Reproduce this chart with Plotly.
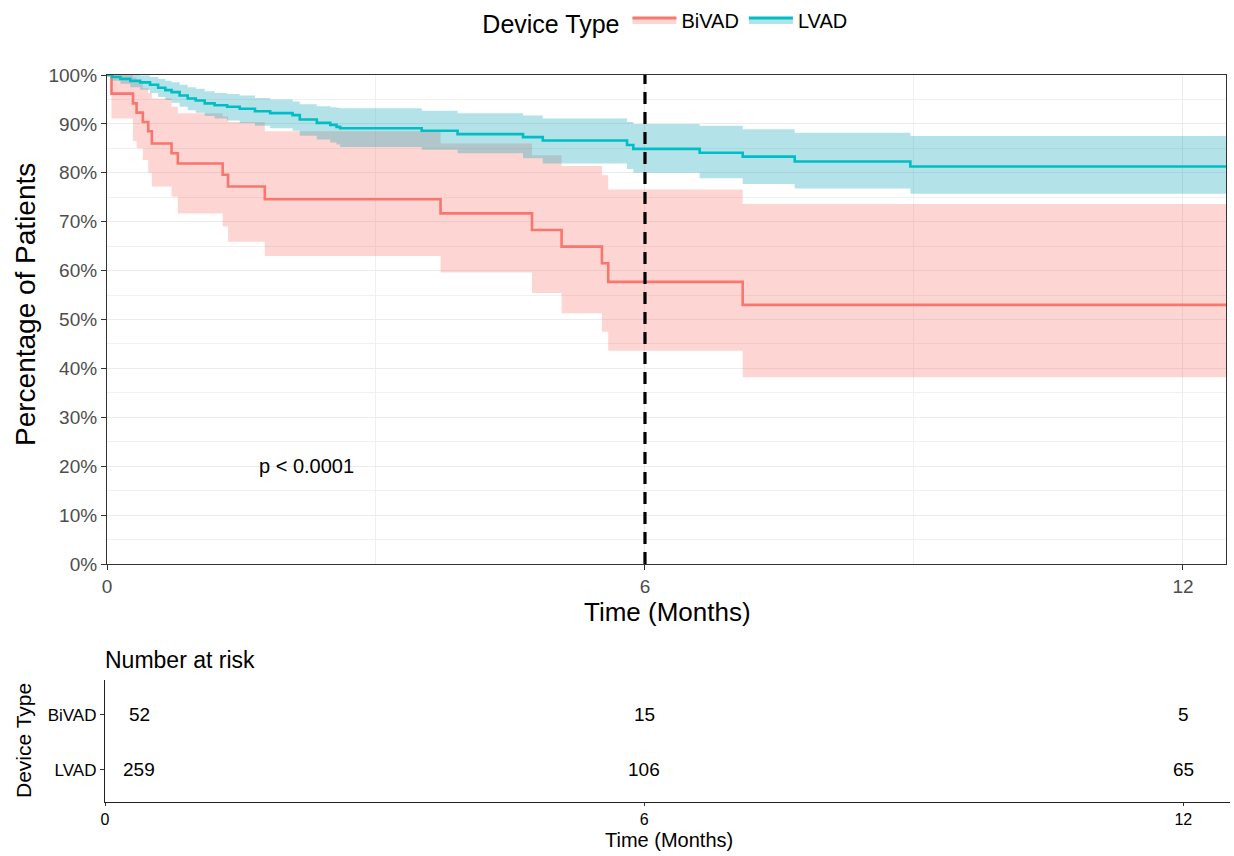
import plotly.graph_objects as go

# ---------------- data ----------------
follow_up_end = 12.48
landmark_time = 6
p_value_text = "p < 0.0001"
p_value_pos = (2.23, 20)

bivad_time = [0, 0.05, 0.29, 0.33, 0.40, 0.46, 0.50, 0.72, 0.79, 1.29, 1.35, 1.76, 3.72, 4.74, 5.07, 5.52, 5.59, 7.09]
bivad_surv = [100, 96.2, 94.2, 92.3, 90.4, 88.5, 86.0, 84.0, 81.9, 79.6, 77.2, 74.6, 71.7, 68.3, 64.9, 61.5, 57.7, 53.0]
bivad_upper = [100, 100, 99.5, 98.5, 97.3, 96.3, 95.2, 93.5, 92.2, 91.5, 90.4, 88.5, 86.0, 83.6, 81.4, 79.5, 76.6, 73.6]
bivad_lower = [100, 91.1, 86.5, 85.0, 82.6, 80.0, 77.2, 75.1, 71.7, 69.0, 65.9, 63.0, 59.6, 55.4, 51.3, 47.5, 43.6, 38.2]

lvad_time = [0, 0.06, 0.15, 0.26, 0.37, 0.48, 0.57, 0.65, 0.72, 0.81, 0.90, 0.99, 1.09, 1.20, 1.34, 1.48, 1.65,
             1.82, 2.07, 2.15, 2.34, 2.49, 2.56, 2.60, 3.51, 3.91, 4.64, 4.86, 5.80, 5.87, 6.61, 7.09, 7.67, 8.96]
lvad_surv = [100, 99.6, 99.2, 98.8, 98.5, 98.0, 97.4, 96.9, 96.5, 95.8, 95.2, 94.8, 94.2, 93.8, 93.5, 93.1, 92.6,
             92.2, 91.8, 90.9, 90.2, 89.8, 89.4, 89.1, 88.6, 87.9, 87.3, 86.6, 85.7, 84.9, 84.1, 83.3, 82.3, 81.3]
lvad_upper = [100, 100, 100, 100, 99.9, 99.6, 99.2, 98.8, 98.5, 98.0, 97.5, 97.2, 96.7, 96.3, 96.1, 95.8, 95.3,
              95.0, 94.6, 94.0, 93.6, 93.4, 93.3, 93.2, 92.7, 92.2, 91.7, 91.1, 90.4, 90.0, 89.6, 88.9, 88.2, 87.5]
lvad_lower = [100, 98.8, 98.2, 97.5, 97.0, 96.3, 95.5, 94.9, 94.3, 93.5, 92.8, 92.3, 91.6, 91.1, 90.7, 90.2, 89.6,
              89.1, 88.6, 87.6, 86.8, 86.2, 85.8, 85.3, 84.7, 84.0, 83.0, 81.9, 80.8, 80.0, 78.9, 77.7, 76.8, 75.7]

groups = ["BiVAD", "LVAD"]
group_colors = {"BiVAD": "#F8766D", "LVAD": "#00BFC4"}
group_fills = {"BiVAD": "rgba(248,118,109,0.3)", "LVAD": "rgba(20,165,182,0.32)"}

risk_times = [0, 6, 12]
risk_bivad = [52, 15, 5]
risk_lvad = [259, 106, 65]

x_ticks = [0, 6, 12]
y_ticks = [0, 10, 20, 30, 40, 50, 60, 70, 80, 90, 100]
y_tick_labels = [f"{v}%" for v in y_ticks]

FONT = "Liberation Sans, Arial, Helvetica, sans-serif"
W, H = 1234, 856

# ---------------- figure ----------------
fig = go.Figure()

series = {
    "BiVAD": (bivad_time, bivad_surv, bivad_upper, bivad_lower),
    "LVAD": (lvad_time, lvad_surv, lvad_upper, lvad_lower),
}

def ext(t, v):
    return list(t) + [follow_up_end], list(v) + [v[-1]]

# confidence bands
for g in groups:
    t, s, u, l = series[g]
    tx, ux = ext(t, u)
    _, lx = ext(t, l)
    fig.add_trace(go.Scatter(x=tx, y=ux, mode="lines", line=dict(width=0, shape="hv"),
                             showlegend=False, hoverinfo="skip", xaxis="x", yaxis="y"))
    fig.add_trace(go.Scatter(x=tx, y=lx, mode="lines", line=dict(width=0, shape="hv"),
                             fill="tonexty", fillcolor=group_fills[g],
                             showlegend=False, hoverinfo="skip", xaxis="x", yaxis="y"))

# survival curves
for g in groups:
    t, s, u, l = series[g]
    tx, sx = ext(t, s)
    fig.add_trace(go.Scatter(x=tx, y=sx, mode="lines",
                             line=dict(color=group_colors[g], width=2.6, shape="hv"),
                             showlegend=False, name=g, xaxis="x", yaxis="y"))

# legend entries (fill box + line)
for g in groups:
    fig.add_trace(go.Scatter(x=[None, None], y=[None, None], mode="lines", fill="toself",
                             fillcolor=group_fills[g], line=dict(color=group_colors[g], width=3),
                             name=g, showlegend=True, xaxis="x", yaxis="y"))

# risk table text
risk_rows = {"BiVAD": (2, risk_bivad), "LVAD": (1, risk_lvad)}

annotations = []
for g in groups:
    yv, counts = risk_rows[g]
    for t, c in zip(risk_times, counts):
        annotations.append(dict(x=t, y=yv, xref="x2", yref="y2", text=str(c), showarrow=False,
                                xanchor="center", yanchor="middle",
                                xshift=34 if t == 0 else 0,
                                font=dict(family=FONT, size=19, color="black")))

def label(x, y, text, size, angle=0, xanchor="center"):
    return dict(x=x / W, y=1 - y / H, xref="paper", yref="paper", text=text, textangle=angle,
                xanchor=xanchor, yanchor="middle", showarrow=False,
                font=dict(family=FONT, size=size, color="black"))

# axis titles and texts
annotations += [
    label(25, 305, "Percentage of Patients", 28, angle=-90),
    label(667, 612, "Time (Months)", 26),
    dict(x=p_value_pos[0], y=p_value_pos[1], xref="x", yref="y", text=p_value_text,
         xanchor="center", yanchor="middle",
         showarrow=False, font=dict(family=FONT, size=20, color="black")),
    label(103, 660, "Number at risk", 23, xanchor="left"),
    label(23, 741, "Device Type", 21, angle=-90),
    label(669, 840, "Time (Months)", 20),
]

shapes = [
    dict(type="line", xref="x", yref="y", x0=landmark_time, x1=landmark_time, y0=0, y1=100,
         line=dict(color="black", width=3.2, dash="12px,8px")),
]

xdom = [107 / W, 1226 / W]

fig.update_layout(
    width=W, height=H,
    margin=dict(l=0, r=0, t=0, b=0, autoexpand=False),
    paper_bgcolor="white", plot_bgcolor="white",
    font=dict(family=FONT, color="black"),
    xaxis=dict(domain=xdom, range=[0, follow_up_end], tickvals=x_ticks, ticktext=[str(v) for v in x_ticks],
               showgrid=True, gridcolor="#EBEBEB", gridwidth=1,
               minor=dict(dtick=3, tick0=0, showgrid=True, gridcolor="#F0F0F0", gridwidth=0.8),
               showline=True, mirror=True, linecolor="#333333", linewidth=1.2,
               ticks="outside", ticklen=5, tickcolor="#333333",
               tickfont=dict(family=FONT, size=19, color="#4D4D4D"),
               zeroline=False, anchor="y", automargin=False),
    yaxis=dict(domain=[1 - 564 / H, 1 - 75 / H], range=[0, 100], tickvals=y_ticks, ticktext=y_tick_labels,
               showgrid=True, gridcolor="#EBEBEB", gridwidth=1,
               minor=dict(dtick=5, tick0=0, showgrid=True, gridcolor="#F0F0F0", gridwidth=0.8),
               showline=True, mirror=True, linecolor="#333333", linewidth=1.2,
               ticks="outside", ticklen=5, tickcolor="#333333",
               tickfont=dict(family=FONT, size=19, color="#4D4D4D"),
               zeroline=False, anchor="x", automargin=False),
    xaxis2=dict(domain=[105 / W, 1230 / W], range=[0, 12.52], tickvals=x_ticks, ticktext=[str(v) for v in x_ticks],
                showgrid=False, showline=True, linecolor="#222222", linewidth=1.3,
                ticks="outside", ticklen=3, tickcolor="#333333",
                tickfont=dict(family=FONT, size=16, color="black"),
                zeroline=False, anchor="y2", automargin=False),
    yaxis2=dict(domain=[1 - 802 / H, 1 - 680 / H], range=[0.418, 2.636], tickvals=[1, 2],
                ticktext=["LVAD", "BiVAD"], showgrid=False, showline=True, linecolor="#222222",
                linewidth=1.3, ticks="outside", ticklen=4, tickcolor="#333333",
                tickfont=dict(family=FONT, size=17, color="black"),
                zeroline=False, anchor="x2", automargin=False),
    legend=dict(orientation="h", x=0.54, xanchor="center", y=1 - 22 / H, yanchor="middle",
                traceorder="normal",
                title=dict(text="Device Type", font=dict(family=FONT, size=25, color="black")),
                font=dict(family=FONT, size=20, color="black"), itemwidth=44,
                bgcolor="rgba(0,0,0,0)"),
    annotations=annotations,
    shapes=shapes,
)

fig.write_html("out.html")
